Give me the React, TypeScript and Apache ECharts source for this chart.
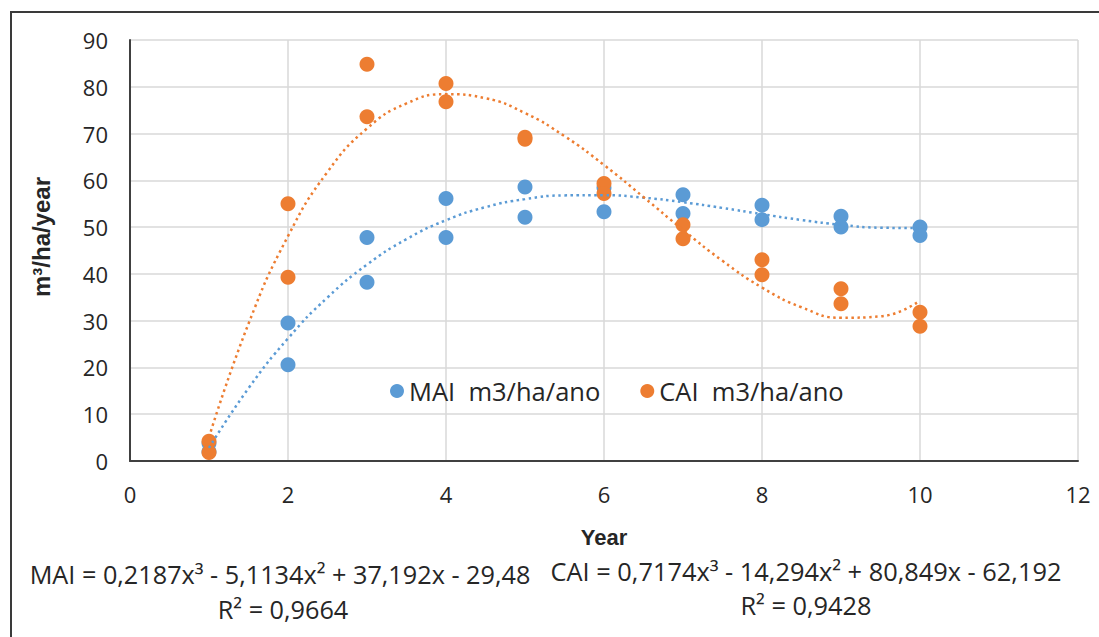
import React, { useEffect, useRef } from "react";
import * as echarts from "echarts";

const years = [1, 2, 3, 4, 5, 6, 7, 8, 9, 10];
const maiA = [3.8, 29.5, 47.8, 56.1, 58.6, 58.4, 56.9, 54.7, 52.3, 50.0];
const maiB = [2.0, 20.6, 38.2, 47.8, 52.1, 53.3, 52.9, 51.6, 50.0, 48.2];
const caiA = [4.2, 55.0, 84.8, 80.7, 69.2, 59.3, 50.5, 43.0, 36.8, 31.8];
const caiB = [1.8, 39.3, 73.6, 76.8, 68.8, 57.2, 47.5, 39.8, 33.6, 28.8];

const trendX = [1, 1.5, 2, 2.5, 3, 3.5, 4, 4.5, 5, 5.5, 6, 6.5, 7, 7.5, 8, 8.5, 9, 9.5, 10];
const maiTrend = [2.82, 15.54, 26.2, 34.96, 41.98, 47.43, 51.47, 54.27, 55.98, 56.78, 56.83, 56.29, 55.32, 54.1, 52.77, 51.52, 50.5, 49.87, 49.8];
const caiTrend = [5.08, 29.34, 48.07, 61.8, 71.08, 76.44, 78.41, 77.55, 74.38, 69.44, 63.28, 56.42, 49.41, 42.79, 37.09, 32.86, 30.62, 30.92, 34.3];

const maiName = "MAI  m3/ha/ano";
const caiName = "CAI  m3/ha/ano";
const maiEq = "MAI = 0,2187x³ - 5,1134x² + 37,192x - 29,48";
const maiR2 = "R² = 0,9664";
const caiEq = "CAI = 0,7174x³ - 14,294x² + 80,849x - 62,192";
const caiR2 = "R² = 0,9428";

const BLUE = "#5B9BD5";
const ORANGE = "#ED7D31";
const EQ_FONT = '25px "Open Sans"';

function measure(text: string, font: string) {
  const c = document.createElement("canvas");
  const ctx = c.getContext("2d")!;
  ctx.font = font;
  return ctx.measureText(text).width;
}

export default function App() {
  const ref = useRef<HTMLDivElement>(null);
  useEffect(() => {
    if (!ref.current) return;
    const chart = echarts.init(ref.current, null, { renderer: "svg" });
    const maiW = measure(maiEq, EQ_FONT);
    const caiW = measure(caiEq, EQ_FONT);
    const sMai = 501 / maiW;
    const sCai = 511 / caiW;
    const eqText = (text: string, x: number, y: number, s: number) => ({
      type: "text",
      x,
      y,
      scaleX: s,
      style: {
        text,
        font: EQ_FONT,
        fill: "#262626",
        align: "center",
        verticalAlign: "middle",
      },
    });
    chart.setOption({
      animation: false,
      backgroundColor: "#ffffff",
      grid: { left: 130, right: 21, top: 40, bottom: 176, containLabel: false },
      legend: {
        left: 385,
        top: 373,
        icon: "circle",
        itemWidth: 14,
        itemHeight: 14,
        itemGap: 40,
        data: [maiName, caiName],
        textStyle: { fontFamily: "Open Sans", fontSize: 25.5, color: "#262626" },
      },
      xAxis: {
        type: "value",
        min: 0,
        max: 12,
        interval: 2,
        axisLine: { show: true, lineStyle: { color: "#404040", width: 2 } },
        axisTick: { show: false },
        axisLabel: { fontFamily: "Open Sans", fontSize: 22, color: "#262626", margin: 22 },
        splitLine: { show: true, lineStyle: { color: "#D9D9D9", width: 1.5 } },
      },
      yAxis: {
        type: "value",
        min: 0,
        max: 90,
        interval: 10,
        axisLine: { show: true, lineStyle: { color: "#404040", width: 2 } },
        axisTick: { show: false },
        axisLabel: { fontFamily: "Open Sans", fontSize: 22, color: "#262626", margin: 22 },
        splitLine: { show: true, lineStyle: { color: "#D9D9D9", width: 1.5 } },
      },
      series: [
        {
          name: maiName,
          type: "scatter",
          symbolSize: 15,
          itemStyle: { color: BLUE, opacity: 1 },
          z: 2,
          data: years.map((x, i) => [x, maiA[i]]).concat(years.map((x, i) => [x, maiB[i]])),
        },
        {
          name: caiName,
          type: "scatter",
          symbolSize: 15,
          itemStyle: { color: ORANGE, opacity: 1 },
          z: 3,
          data: years.map((x, i) => [x, caiA[i]]).concat(years.map((x, i) => [x, caiB[i]])),
        },
        {
          name: "MAI trend",
          type: "line",
          smooth: true,
          showSymbol: false,
          silent: true,
          z: 4,
          lineStyle: { color: BLUE, width: 2.5, type: [2.5, 3.5] },
          data: trendX.map((x, i) => [x, maiTrend[i]]),
        },
        {
          name: "CAI trend",
          type: "line",
          smooth: true,
          showSymbol: false,
          silent: true,
          z: 4,
          lineStyle: { color: ORANGE, width: 2.5, type: [2.5, 3.5] },
          data: trendX.map((x, i) => [x, caiTrend[i]]),
        },
      ],
      graphic: [
        {
          type: "rect",
          shape: { x: 11, y: 12, width: 1300, height: 800 },
          style: { fill: "none", stroke: "#3a3a3a", lineWidth: 2 },
          silent: true,
        },
        {
          type: "text",
          x: 41,
          y: 237,
          rotation: Math.PI / 2,
          style: {
            text: "m³/ha/year",
            font: 'bold 24px "Liberation Sans"',
            fill: "#262626",
            align: "center",
            verticalAlign: "middle",
          },
        },
        {
          type: "text",
          x: 604,
          y: 537,
          style: {
            text: "Year",
            font: 'bold 22px "Liberation Sans"',
            fill: "#262626",
            align: "center",
            verticalAlign: "middle",
          },
        },
        eqText(maiEq, 280, 574, sMai),
        eqText(maiR2, 283, 609, sMai),
        eqText(caiEq, 806, 571, sCai),
        eqText(caiR2, 806, 605, sCai),
      ],
    });
    return () => chart.dispose();
  }, []);
  return (
    <div
      ref={ref}
      style={{ position: "fixed", left: 0, top: 0, width: 1099, height: 637 }}
    />
  );
}
